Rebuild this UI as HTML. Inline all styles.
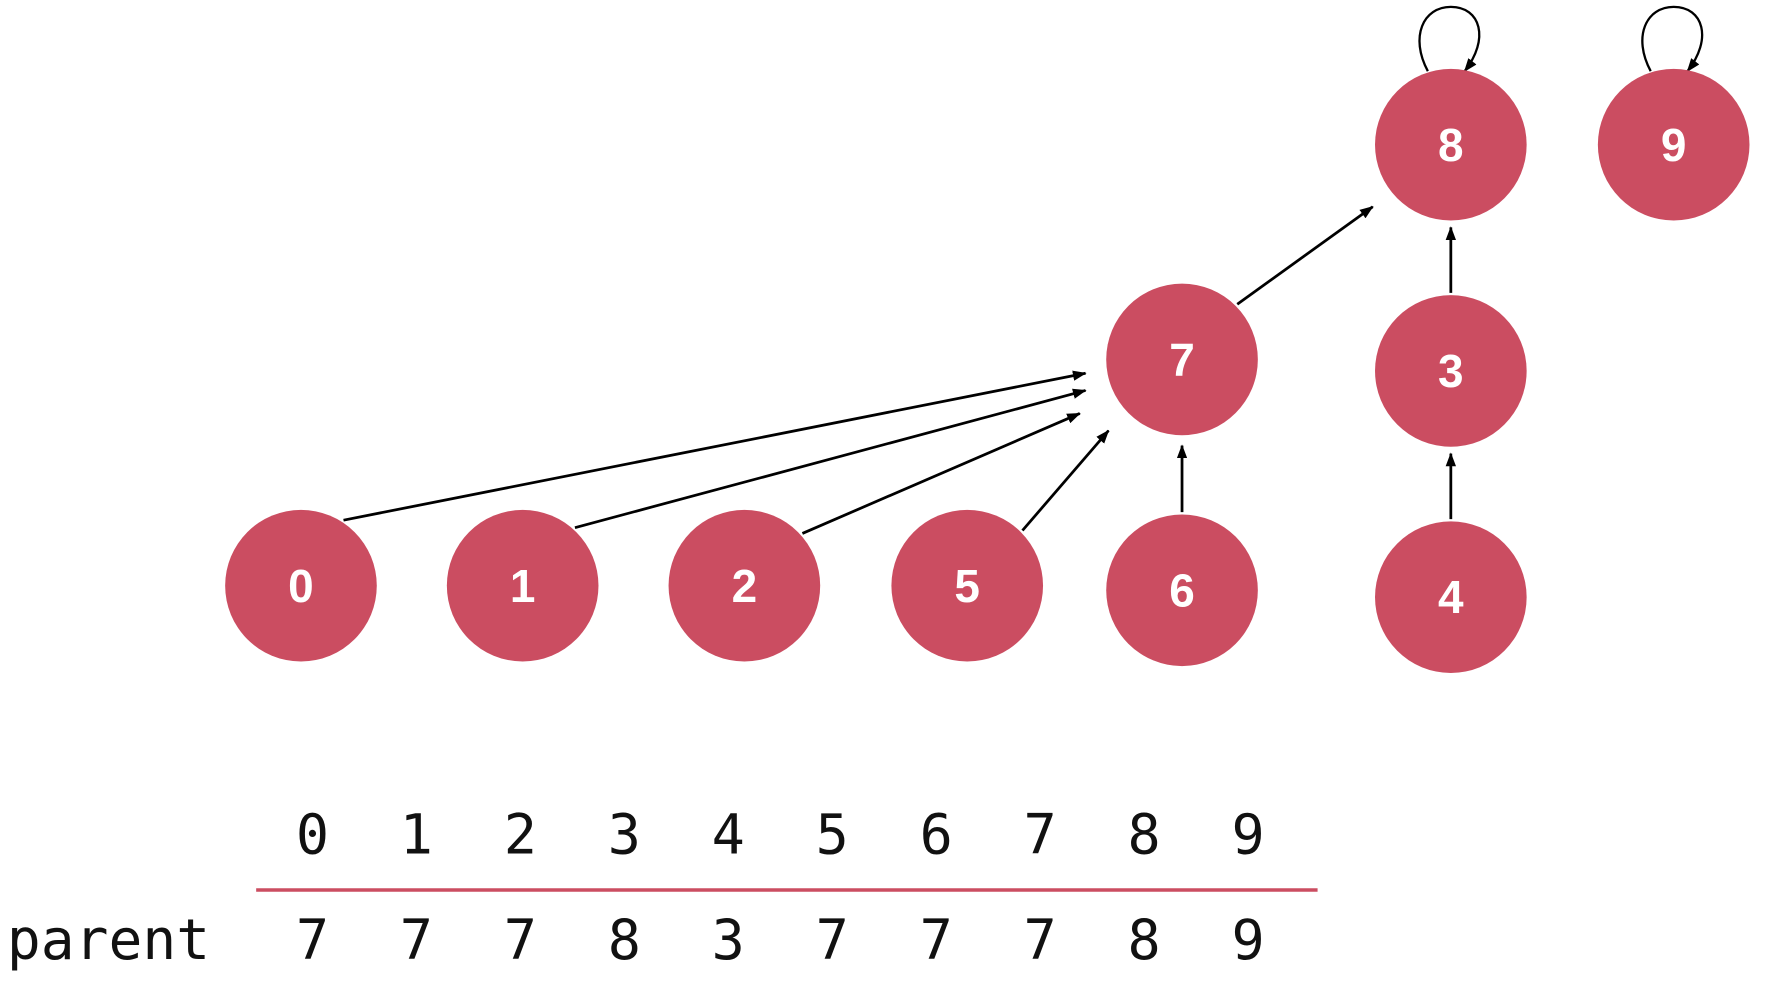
<!DOCTYPE html>
<html><head><meta charset="utf-8"><style>
html,body{margin:0;padding:0;background:#fff;}
svg{display:block;}
</style></head><body>
<svg id="chart" width="1792" height="1006" viewBox="0 0 1560 876" preserveAspectRatio="none" xmlns="http://www.w3.org/2000/svg">
<defs><marker id="ah" markerWidth="12" markerHeight="9" refX="11" refY="4.5" orient="auto" markerUnits="userSpaceOnUse"><path d="M0,0 L12,4.5 L0,9 Z" fill="#000"/></marker></defs>
<g id="edges"></g><g id="nodes"></g><g id="table"></g>
</svg>
<script>
const nodeIds = [0,1,2,3,4,5,6,7,8,9];
const parent = [7,7,7,8,3,7,7,7,8,9];
const edgeFrom = [0,1,2,5,6,7,3,4,8,9];
const edgeTo   = [7,7,7,7,7,8,8,3,8,9];
const nodeCol = {0:262,1:455,2:648,5:842,6:1029,7:1029,8:1263,9:1457,3:1263,4:1263};
const nodeRow = {0:510,1:510,2:510,5:510,6:514,7:313,8:126,9:126,3:323,4:520};
const R = 66;
const NS = 'http://www.w3.org/2000/svg';
function mk(tag, attrs, parentEl){const e=document.createElementNS(NS,tag);for(const k in attrs)e.setAttribute(k,attrs[k]);parentEl.appendChild(e);return e;}
const eg=document.getElementById('edges'), ng=document.getElementById('nodes'), tg=document.getElementById('table');
// layout tweaks (start angle at source in degrees, end offset relative to target center)
const startAng = {'0-7':-57,'1-7':-48,'2-7':-42,'5-7':-45,'6-7':-90,'7-8':-45,'3-8':-90,'4-3':-90};
const endOff = {'0-7':[-84,12],'1-7':[-84,27],'2-7':[-89,47],'5-7':[-64,62],'6-7':[0,75],'7-8':[-68,54],'3-8':[0,72],'4-3':[0,72]};
edgeFrom.forEach((s,k)=>{
  const p=edgeTo[k], key=s+'-'+p;
  const x1=nodeCol[s], y1=nodeRow[s], x2=nodeCol[p], y2=nodeRow[p];
  if(p===s){
    const top=y1-R+2;
    const l=mk('path',{d:`M${x1-20},${top} C${x1-36},${top-30} ${x1-24},${top-56} ${x1},${top-56} C${x1+26},${top-56} ${x1+34},${top-28} ${x1+12},${top}`,fill:'none',stroke:'#000','stroke-width':2,'marker-end':'url(#ah)'},eg);
    
    
    return;
  }
  const a=(startAng[key]!==undefined?startAng[key]:Math.atan2(y2-y1,x2-x1)*180/Math.PI)*Math.PI/180;
  const sx=x1+Math.cos(a)*(R+2), sy=y1+Math.sin(a)*(R+2);
  const o=endOff[key]||[0,R+8];
  const l=mk('line',{x1:sx,y1:sy,x2:x2+o[0],y2:y2+o[1],stroke:'#000','stroke-width':2.4,'marker-end':'url(#ah)'},eg);
  
  
});
nodeIds.forEach(i=>{
  const g=mk('g',{},ng);
  
  
  mk('circle',{cx:nodeCol[i],cy:nodeRow[i],r:R,fill:'#cb4d61'},g);
  const t=mk('text',{x:nodeCol[i],y:nodeRow[i]+14,'text-anchor':'middle',fill:'#fff','font-family':'Liberation Sans, sans-serif','font-weight':'bold','font-size':40},g);
  t.textContent=i;
});
const colX0=272, colStep=90.5;
nodeIds.forEach((i,k)=>{
  const h=mk('text',{x:colX0+k*colStep,y:743,'text-anchor':'middle','font-family':'DejaVu Sans Mono, monospace','font-size':48,fill:'#111'},tg);
  h.textContent=i;
  
  
  const v=mk('text',{x:colX0+k*colStep,y:835,'text-anchor':'middle','font-family':'DejaVu Sans Mono, monospace','font-size':48,fill:'#111'},tg);
  v.textContent=parent[i];
  
  
});
const ln=mk('line',{x1:223,y1:775,x2:1147,y2:775,stroke:'#cb4d61','stroke-width':3},tg);


const lab=mk('text',{x:6,y:835,'font-family':'DejaVu Sans Mono, monospace','font-size':49,fill:'#111'},tg);
lab.textContent='parent';


</script>
</body></html>
